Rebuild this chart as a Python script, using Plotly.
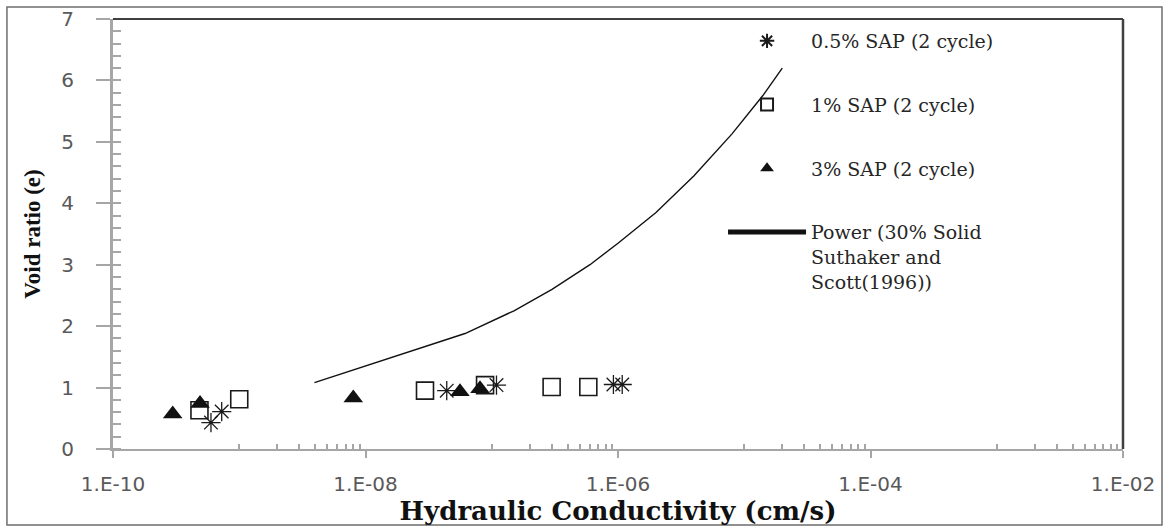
import plotly.graph_objects as go

# Hydraulic conductivity (cm/s) vs void ratio for SAP-amended tailings, 2 freeze-thaw cycles
k_sap05 = [5.97e-10, 7.26e-10, 4.4e-8, 1.09e-7, 9.2e-7, 1.08e-6]
e_sap05 = [0.43, 0.61, 0.95, 1.04, 1.05, 1.05]

k_sap1 = [4.84e-10, 1.0e-9, 2.96e-8, 8.85e-8, 2.98e-7, 5.82e-7]
e_sap1 = [0.63, 0.81, 0.95, 1.04, 1.01, 1.01]

k_sap3 = [2.97e-10, 4.89e-10, 8.0e-9, 5.6e-8, 8.07e-8]
e_sap3 = [0.57, 0.74, 0.83, 0.93, 0.98]

# Power trend for 30% solids (Suthaker and Scott, 1996)
k_power = [3.94e-9, 6.14e-8, 1.5e-7, 3.0e-7, 6.0e-7, 1.0e-6, 2.0e-6, 4.0e-6, 8.0e-6, 1.4e-5, 2.0e-5]
e_power = [1.08, 1.88, 2.25, 2.6, 3.0, 3.35, 3.85, 4.45, 5.13, 5.75, 6.2]

x_tick_vals = [1e-10, 1e-8, 1e-6, 1e-4, 1e-2]
x_tick_text = ["1.E-10", "1.E-08", "1.E-06", "1.E-04", "1.E-02"]

series_names = [
    "0.5% SAP (2 cycle)",
    "1% SAP (2 cycle)",
    "3% SAP (2 cycle)",
    "Power (30% Solid<br>Suthaker and<br>Scott(1996))",
]

# minor ticks at 1..9 x 10^n for the odd decades
minor_vals = [m * 10.0 ** p for p in (-9, -7, -5, -3) for m in range(1, 10)]

fig = go.Figure()

fig.add_trace(go.Scatter(
    x=k_sap05, y=e_sap05, mode="markers", name=series_names[0], legendgroup="a",
    marker=dict(symbol="asterisk-open", size=16, color="#1a1a1a",
                line=dict(color="#1a1a1a", width=1.3)),
))
fig.add_trace(go.Scatter(
    x=k_sap1, y=e_sap1, mode="markers", name=series_names[1], legendgroup="b",
    marker=dict(symbol="square-open", size=17, color="#1a1a1a",
                line=dict(color="#1a1a1a", width=1.6)),
))
fig.add_trace(go.Scatter(
    x=k_sap3, y=e_sap3, mode="markers", name=series_names[2], legendgroup="c",
    marker=dict(symbol="triangle-up", size=17, color="#111111",
                line=dict(width=0)),
))
fig.add_trace(go.Scatter(
    x=k_power, y=e_power, mode="lines", name=series_names[3], legendgroup="d",
    line=dict(color="#111111", width=1.4),
))

axis_gray = "#a6a6a6"
tick_font = dict(family="DejaVu Sans", size=20, color="#595959")

fig.update_xaxes(
    type="log", range=[-10, -2],
    tickmode="array", tickvals=x_tick_vals, ticktext=x_tick_text,
    ticks="outside", ticklen=7, tickwidth=2, tickcolor=axis_gray,
    showline=True, linecolor=axis_gray, linewidth=2,
    showgrid=False, zeroline=False,
    tickfont=tick_font, ticklabelstandoff=9,
    minor=dict(tickmode="array", tickvals=minor_vals, ticks="inside",
               ticklen=5, tickwidth=1.5, tickcolor=axis_gray, showgrid=False),
    title=dict(text="<b>Hydraulic Conductivity (cm/s)</b>", standoff=4,
               font=dict(family="DejaVu Serif", size=26, color="#111111")),
)
fig.update_yaxes(
    range=[0, 7], dtick=1, tick0=0,
    ticks="outside", ticklen=14, tickwidth=2, tickcolor=axis_gray,
    showline=True, linecolor=axis_gray, linewidth=3,
    showgrid=False, zeroline=False,
    tickfont=tick_font, ticklabelstandoff=18,
    minor=dict(dtick=0.2, ticks="inside", ticklen=8, tickwidth=1.5,
               tickcolor=axis_gray, showgrid=False),
    title=dict(text="<b>Void ratio (e)</b>", standoff=15,
               font=dict(family="Liberation Serif", size=23, color="#111111")),
)

# dark frame on the top and right of the plot area, thin border round the whole figure
fig.add_shape(type="line", xref="paper", yref="paper", x0=0, x1=1, y0=1, y1=1,
              line=dict(color="#404040", width=2))
fig.add_shape(type="line", xref="paper", yref="paper", x0=1, x1=1, y0=0, y1=1,
              line=dict(color="#404040", width=2.5))
fig.add_shape(type="rect", xref="paper", yref="paper",
              x0=-0.105, x1=1.0386, y0=-0.177, y1=1.0279,
              line=dict(color="#6e6e6e", width=1.5), fillcolor="rgba(0,0,0,0)", layer="below")

fig.update_layout(
    width=1169, height=529,
    margin=dict(l=113, r=46, t=19, b=80, autoexpand=False),
    paper_bgcolor="white", plot_bgcolor="white",
    showlegend=True,
    legend=dict(
        x=0.604, y=0.993, xanchor="left", yanchor="top",
        bgcolor="rgba(0,0,0,0)", borderwidth=0,
        font=dict(family="DejaVu Serif", size=19, color="#262626"),
        tracegroupgap=36, itemwidth=78, valign="top",
        itemsizing="constant",
    ),
)

fig.write_html("out.html")
